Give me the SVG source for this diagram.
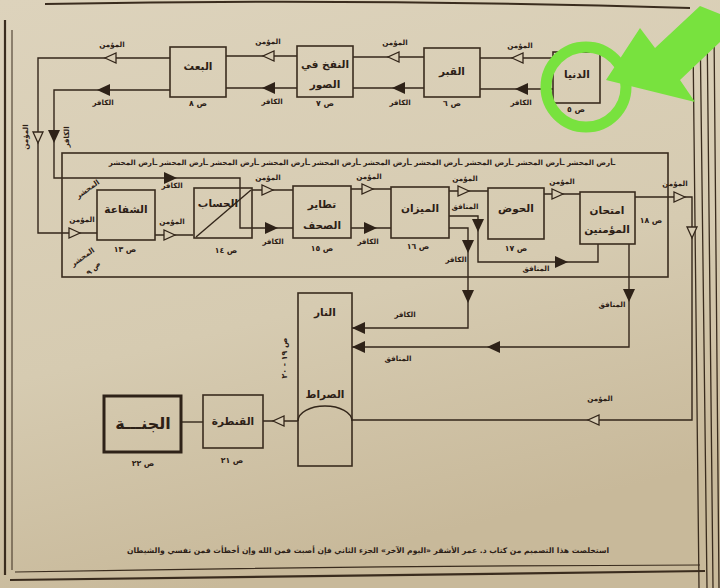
<svg xmlns="http://www.w3.org/2000/svg" xmlns:xlink="http://www.w3.org/1999/xlink" width="720" height="588" viewBox="0 0 720 588">
<defs>
<linearGradient id="paper" x1="0" y1="0" x2="0.3" y2="1">
<stop offset="0" stop-color="#ddd3bc"/>
<stop offset="0.6" stop-color="#d6cbb1"/>
<stop offset="1" stop-color="#c8b99a"/>
</linearGradient>
<path id="ao" d="M0,0 L-11,-5 L-11,5 Z" fill="#d8cdb4" stroke="#33261a" stroke-width="1.3"/>
<path id="af" d="M0,0 L-13,-6 L-13,6 Z" fill="#2e2218"/>
<style>
.box{fill:none;stroke:#3a2c1e;stroke-width:1.6}
.ln{fill:none;stroke:#33261a;stroke-width:1.4}
.frame{fill:none;stroke:#3a2c1e}
text{font-family:"DejaVu Sans","Noto Sans",sans-serif;font-weight:bold;fill:#2c2016;text-anchor:middle;direction:rtl}
.t{font-size:10.5px}
.lb{font-size:7.2px}
.pg{font-size:7.8px}
.ft{font-size:7.6px}
</style>
</defs>
<rect width="720" height="588" fill="url(#paper)"/>
<g id="page-frame">
<path class="frame" d="M45,4 Q360,-2 690,8" stroke-width="2"/>
<path class="frame" d="M5,20 V575" stroke-width="2.2"/>
<path class="frame" d="M12,30 V570" stroke-width="1"/>
<path class="frame" d="M693,40 L699,588 M700,20 L707,588 M707,20 L713,588 M714,30 L719,588" stroke-width="1.3"/>
<path class="frame" d="M15,572 Q360,566 700,565" stroke-width="1.2"/>
<path class="frame" d="M10,580 Q360,574 705,571" stroke-width="2.2"/>
</g>
<g id="connectors">
<path class="ln" d="M553,58 H480"/>
<path class="ln" d="M424,57 H353"/>
<path class="ln" d="M297,56 H226"/>
<path class="ln" d="M170,58 H38 V233 H97"/>
<path class="ln" d="M553,89 H480"/>
<path class="ln" d="M424,88 H353"/>
<path class="ln" d="M297,88 H226"/>
<path class="ln" d="M170,90 H54 V178 H240 V228 H293"/>
<path class="ln" d="M155,235 H193"/>
<path class="ln" d="M252,190 H293"/>
<path class="ln" d="M351,189 H391"/>
<path class="ln" d="M449,191 H488"/>
<path class="ln" d="M544,194 H580"/>
<path class="ln" d="M635,197 H692 V420 H352"/>
<path class="ln" d="M351,228 H391"/>
<path class="ln" d="M449,228 H468 V328 H352"/>
<path class="ln" d="M449,216 H478 V262 H598 V244"/>
<path class="ln" d="M629,244 V347 H352"/>
<path class="ln" d="M298,421 H263"/>
<path class="ln" d="M181,422 H203"/>
<use xlink:href="#ao" transform="translate(512,58) rotate(180)"/>
<use xlink:href="#ao" transform="translate(388,57) rotate(180)"/>
<use xlink:href="#ao" transform="translate(263,56) rotate(180)"/>
<use xlink:href="#ao" transform="translate(105,58) rotate(180)"/>
<use xlink:href="#ao" transform="translate(38,143) rotate(90)"/>
<use xlink:href="#ao" transform="translate(80,233)"/>
<use xlink:href="#af" transform="translate(515,89) rotate(180)"/>
<use xlink:href="#af" transform="translate(392,88) rotate(180)"/>
<use xlink:href="#af" transform="translate(262,88) rotate(180)"/>
<use xlink:href="#af" transform="translate(97,90) rotate(180)"/>
<use xlink:href="#af" transform="translate(54,143) rotate(90)"/>
<use xlink:href="#af" transform="translate(177,178)"/>
<use xlink:href="#af" transform="translate(278,228)"/>
<use xlink:href="#ao" transform="translate(175,235)"/>
<use xlink:href="#ao" transform="translate(273,190)"/>
<use xlink:href="#ao" transform="translate(373,189)"/>
<use xlink:href="#ao" transform="translate(469,191)"/>
<use xlink:href="#ao" transform="translate(563,194)"/>
<use xlink:href="#ao" transform="translate(685,197)"/>
<use xlink:href="#ao" transform="translate(692,238) rotate(90)"/>
<use xlink:href="#ao" transform="translate(588,420) rotate(180)"/>
<use xlink:href="#af" transform="translate(377,228)"/>
<use xlink:href="#af" transform="translate(468,253) rotate(90)"/>
<use xlink:href="#af" transform="translate(468,303) rotate(90)"/>
<use xlink:href="#af" transform="translate(352,328) rotate(180)"/>
<use xlink:href="#af" transform="translate(478,232) rotate(90)"/>
<use xlink:href="#af" transform="translate(568,262)"/>
<use xlink:href="#af" transform="translate(629,302) rotate(90)"/>
<use xlink:href="#af" transform="translate(487,347) rotate(180)"/>
<use xlink:href="#af" transform="translate(352,347) rotate(180)"/>
<use xlink:href="#ao" transform="translate(273,421) rotate(180)"/>
<g class="labels">
<text class="lb" x="520" y="48">المؤمن</text>
<text class="lb" x="395" y="45">المؤمن</text>
<text class="lb" x="268" y="44">المؤمن</text>
<text class="lb" x="112" y="47">المؤمن</text>
<text class="lb" transform="translate(28,137) rotate(-90)">المؤمن</text>
<text class="lb" x="82" y="222">المؤمن</text>
<text class="lb" x="521" y="105">الكافر</text>
<text class="lb" x="400" y="105">الكافر</text>
<text class="lb" x="272" y="104">الكافر</text>
<text class="lb" x="103" y="105">الكافر</text>
<text class="lb" transform="translate(69,137) rotate(-90)">الكافر</text>
<text class="lb" x="172" y="188">الكافر</text>
<text class="lb" x="273" y="244">الكافر</text>
<text class="lb" x="172" y="224">المؤمن</text>
<text class="lb" x="268" y="180">المؤمن</text>
<text class="lb" x="369" y="179">المؤمن</text>
<text class="lb" x="465" y="181">المؤمن</text>
<text class="lb" x="562" y="184">المؤمن</text>
<text class="lb" x="675" y="186">المؤمن</text>
<text class="lb" x="600" y="401">المؤمن</text>
<text class="lb" x="368" y="244">الكافر</text>
<text class="lb" x="456" y="262">الكافر</text>
<text class="lb" x="405" y="317">الكافر</text>
<text class="lb" x="465" y="209">المنافق</text>
<text class="lb" x="536" y="271">المنافق</text>
<text class="lb" x="612" y="307">المنافق</text>
<text class="lb" x="398" y="361">المنافق</text>
</g>
</g>
<g id="ard-almahshar">
<rect class="box" x="62" y="153" width="606" height="124"/>
<text class="lb" x="362" y="165">ـأرض المحشر ـأرض المحشر ـأرض المحشر ـأرض المحشر ـأرض المحشر ـأرض المحشر ـأرض المحشر ـأرض المحشر ـأرض المحشر ـأرض المحشر</text>
<text class="lb" transform="translate(89,191) rotate(-35)">المحشر</text>
<text class="lb" transform="translate(84,259) rotate(-35)">المحشر</text>
<text class="lb" transform="translate(95,270) rotate(-45)">ص ٩</text>
</g>
<g id="node-dunya">
<rect class="box" x="553" y="52" width="47" height="51"/>
<text class="t" x="577" y="78">الدنيا</text>
<text class="pg" x="576" y="112">ص ٥</text>
</g>
<g id="node-qabr">
<rect class="box" x="424" y="48" width="56" height="49"/>
<text class="t" x="452" y="75">القبر</text>
<text class="pg" x="452" y="106">ص ٦</text>
</g>
<g id="node-nafkh">
<rect class="box" x="297" y="46" width="56" height="51"/>
<text class="t" x="325" y="68">النفخ في</text>
<text class="t" x="325" y="88">الصور</text>
<text class="pg" x="325" y="106">ص ٧</text>
</g>
<g id="node-baath">
<rect class="box" x="170" y="47" width="56" height="50"/>
<text class="t" x="198" y="70">البعث</text>
<text class="pg" x="198" y="106">ص ٨</text>
</g>
<g id="node-shafaa">
<rect class="box" x="97" y="190" width="58" height="50"/>
<text class="t" x="126" y="213">الشفاعة</text>
<text class="pg" x="125" y="252">ص ١٣</text>
</g>
<g id="node-hisab">
<rect class="box" x="194" y="188" width="58" height="50"/>
<path class="ln" d="M196,237 L251,190"/>
<text class="t" x="218" y="207">الحساب</text>
<text class="pg" x="226" y="253">ص ١٤</text>
</g>
<g id="node-tatayur">
<rect class="box" x="293" y="186" width="58" height="52"/>
<text class="t" x="322" y="208">تطاير</text>
<text class="t" x="322" y="229">الصحف</text>
<text class="pg" x="322" y="251">ص ١٥</text>
</g>
<g id="node-mizan">
<rect class="box" x="391" y="187" width="58" height="51"/>
<text class="t" x="420" y="212">الميزان</text>
<text class="pg" x="418" y="249">ص ١٦</text>
</g>
<g id="node-hawd">
<rect class="box" x="488" y="188" width="56" height="51"/>
<text class="t" x="516" y="212">الحوض</text>
<text class="pg" x="516" y="251">ص ١٧</text>
</g>
<g id="node-imtihan">
<rect class="box" x="580" y="192" width="55" height="52"/>
<text class="t" x="607" y="214">امتحان</text>
<text class="t" x="607" y="233">المؤمنين</text>
<text class="pg" x="651" y="223">ص ١٨</text>
</g>
<g id="node-nar-sirat">
<rect class="box" x="298" y="293" width="54" height="173"/>
<path class="ln" d="M298,421 A27,15 0 0 1 352,421"/>
<text class="t" x="325" y="316">النار</text>
<text class="t" x="325" y="398">الصراط</text>
<text class="pg" transform="translate(287,358) rotate(-90)">ص ١٩ - ٢٠</text>
</g>
<g id="node-qantara">
<rect class="box" x="203" y="395" width="60" height="53"/>
<text class="t" x="233" y="425">القنطرة</text>
<text class="pg" x="232" y="463">ص ٢١</text>
</g>
<g id="node-janna">
<rect x="104" y="396" width="77" height="56" fill="none" stroke="#2e2218" stroke-width="3"/>
<text x="143" y="429" style="font-size:16px">الجنـــة</text>
<text class="pg" x="143" y="466">ص ٢٢</text>
</g>
<g id="footer">
<text class="ft" x="368" y="553">استخلصت هذا التصميم من كتاب د. عمر الأشقر «اليوم الآخر» الجزء الثاني فإن أصبت فمن الله وإن أخطأت فمن نفسي والشيطان</text>
</g>
<g id="green-annotation" fill="#78e23e">
<ellipse cx="586" cy="87" rx="40" ry="40" fill="none" stroke="#78e23e" stroke-width="11"/>
<path d="M606,80 L640,28 L655,48 L700,6 L720,14 L720,42 L680,80 L695,102 Z"/>
</g>
</svg>
